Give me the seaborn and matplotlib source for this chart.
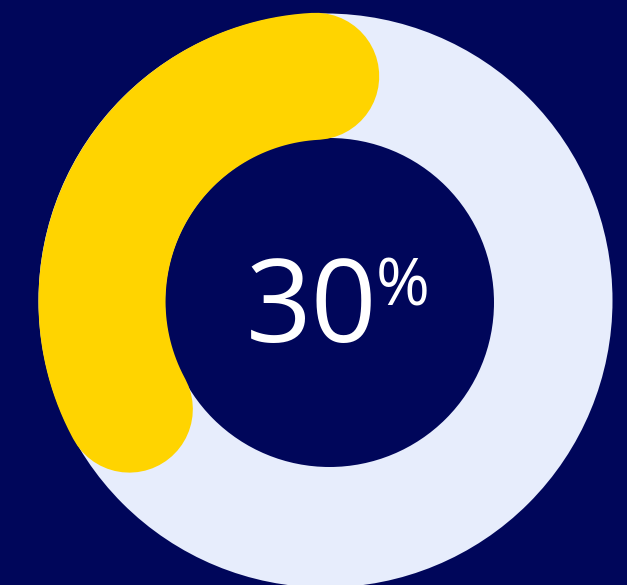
import numpy as np
import pandas as pd
import seaborn as sns
import matplotlib.pyplot as plt
from matplotlib.patches import Circle

# valor mostrado y extremos del arco (grados)
pct = 30
arc_deg = [93, 208.5]

bg = "#00065A"
ring = "#E7EDFC"
gold = "#FFD400"

sns.set_theme(style="white", rc={"figure.facecolor": bg, "axes.facecolor": bg})
plt.rcParams["font.family"] = ["Open Sans", "DejaVu Sans"]

fig = plt.figure(figsize=(6.27, 5.85), dpi=100)
ax = fig.add_axes([0, 0, 1, 1])
ax.set_xlim(0, 627)
ax.set_ylim(585, 0)
ax.set_aspect("equal")
ax.axis("off")

# anillo de fondo
ax.add_patch(Circle((325.5, 300.5), 287, color=ring, lw=0))
ax.add_patch(Circle((329.5, 302.5), 164.5, color=bg, lw=0))

# arco amarillo con extremos redondeados
t = np.radians(np.linspace(arc_deg[0], arc_deg[1], 200))
arc = pd.DataFrame({"x": 327.5 + 225.5 * np.cos(t), "y": 301.5 - 225.5 * np.sin(t)})
sns.lineplot(data=arc, x="x", y="y", sort=False, estimator=None, ax=ax,
             color=gold, linewidth=91.5, solid_capstyle="round")
ax.set_xlabel("")
ax.set_ylabel("")

ax.text(246, 342, str(pct), color="white", fontsize=83, ha="left", va="baseline")
ax.text(376, 305, "%", color="white", fontsize=47, ha="left", va="baseline")

fig.savefig("out.png", dpi=100, facecolor=bg)
